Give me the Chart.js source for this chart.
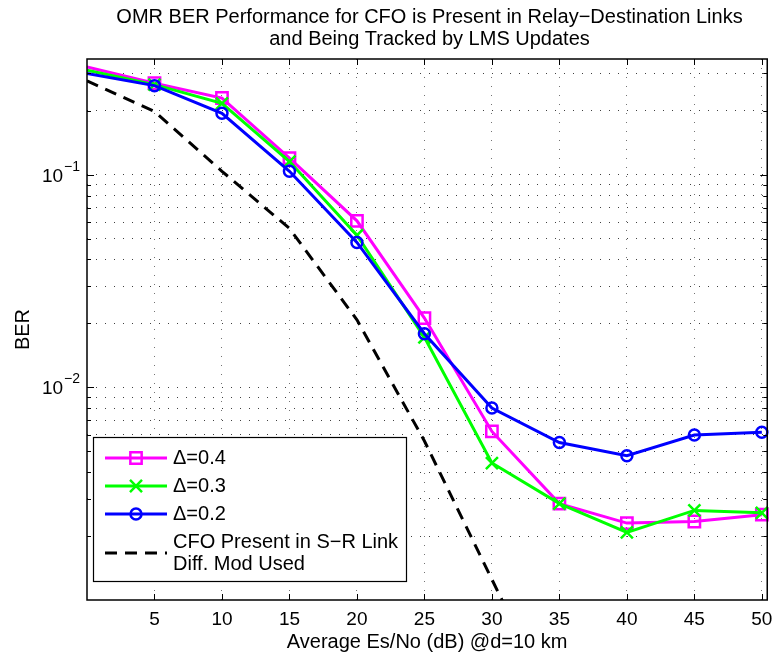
<!DOCTYPE html>
<html>
<head>
<meta charset="utf-8">
<script src="https://cdn.jsdelivr.net/npm/chart.js@4.4.1/dist/chart.umd.min.js"></script>
<style>
  html, body { margin: 0; padding: 0; background: #fff; }
</style>
</head>
<body>
<canvas id="chart" width="783" height="657"></canvas>
<script>
const snr = [0, 5, 10, 15, 20, 25, 30, 35, 40, 45, 50];
const ber04 = [0.322, 0.270, 0.230, 0.120, 0.0608, 0.0212, 0.00621, 0.00284, 0.00230, 0.00234, 0.00252];
const ber03 = [0.311, 0.266, 0.217, 0.1155, 0.0520, 0.0172, 0.00441, 0.00284, 0.00208, 0.00264, 0.00257];
const ber02 = [0.300, 0.263, 0.195, 0.104, 0.0481, 0.0179, 0.00800, 0.00551, 0.00477, 0.00597, 0.00615];
const snrRef = [0, 5, 10, 15, 20, 25, 30, 35];
const berRef = [0.277, 0.199, 0.104, 0.056, 0.0208, 0.0056, 0.00125, 0.00028];

const xTicks = [5, 10, 15, 20, 25, 30, 35, 40, 45, 50];
const yTicks = [0.002, 0.003, 0.004, 0.005, 0.006, 0.007, 0.008, 0.009,
                0.01, 0.02, 0.03, 0.04, 0.05, 0.06, 0.07, 0.08, 0.09,
                0.1, 0.2, 0.3];
const yLabels = [[0.1, '−1'], [0.01, '−2']];
const legendNames = ['Δ=0.4', 'Δ=0.3', 'Δ=0.2', ['CFO Present in S−R Link', 'Diff. Mod Used']];

const FONT = 'Liberation Sans, Arial, Helvetica, sans-serif';

function pts(xs, ys) {
  return xs.map(function(v, i) { return { x: v, y: ys[i] }; });
}
// no marker on the first point (sits on the left axis edge)
function rad(r) {
  return function(c) { return c.dataIndex === 0 ? 0 : r; };
}

const series = [
  { label: legendNames[0], data: pts(snr, ber04), borderColor: '#ff00ff', pointStyle: 'rect', pointRadius: rad(8), order: 3 },
  { label: legendNames[1], data: pts(snr, ber03), borderColor: '#00ff00', pointStyle: 'crossRot', pointRadius: rad(8.5), order: 2 },
  { label: legendNames[2], data: pts(snr, ber02), borderColor: '#0000ff', pointStyle: 'circle', pointRadius: rad(5.5), order: 1 },
  { label: legendNames[3].join(' '), data: pts(snrRef, berRef), borderColor: '#000', borderDash: [12, 8], pointRadius: 0, order: 0, clip: 0 }
];
series.forEach(function(s) {
  s.borderWidth = 3;
  s.pointBorderWidth = 2.5;
  s.pointBorderColor = s.borderColor;
  s.pointBackgroundColor = 'rgba(0,0,0,0)';
  s.pointHoverRadius = 0;
  s.tension = 0;
  if (s.clip === undefined) s.clip = { left: 0, top: 0, right: 8, bottom: 0 };
});

const frame = {
  id: 'frame',
  afterDraw(chart) {
    const ctx = chart.ctx, a = chart.chartArea;
    const x = chart.scales.x, y = chart.scales.y;
    ctx.save();
    ctx.strokeStyle = '#000';
    ctx.lineWidth = 1.5;
    ctx.setLineDash([]);
    ctx.strokeRect(a.left, a.top, a.right - a.left, a.bottom - a.top);

    // inward tick marks
    ctx.lineWidth = 1;
    ctx.beginPath();
    xTicks.forEach(function(v) {
      const px = Math.round(x.getPixelForValue(v)) + 0.5;
      ctx.moveTo(px, a.bottom); ctx.lineTo(px, a.bottom - 6);
      ctx.moveTo(px, a.top); ctx.lineTo(px, a.top + 6);
    });
    yTicks.forEach(function(v) {
      const py = Math.round(y.getPixelForValue(v)) + 0.5;
      const len = (v === 0.1 || v === 0.01) ? 7 : 4;
      ctx.moveTo(a.left, py); ctx.lineTo(a.left + len, py);
      ctx.moveTo(a.right, py); ctx.lineTo(a.right - len, py);
    });
    ctx.stroke();

    // y tick labels 10^-n
    ctx.fillStyle = '#000';
    yLabels.forEach(function(l) {
      const py = y.getPixelForValue(l[0]);
      ctx.font = '14px ' + FONT;
      const ew = ctx.measureText(l[1]).width;
      ctx.textBaseline = 'alphabetic';
      ctx.textAlign = 'left';
      const right = a.left - 7;
      ctx.fillText(l[1], right - ew, py - 4);
      ctx.font = '19px ' + FONT;
      ctx.textAlign = 'right';
      ctx.fillText('10', right - ew - 1, py + 7);
    });

    // y axis title
    ctx.save();
    ctx.translate(23, (a.top + a.bottom) / 2);
    ctx.rotate(-Math.PI / 2);
    ctx.font = '20px ' + FONT;
    ctx.textAlign = 'center';
    ctx.textBaseline = 'middle';
    ctx.fillText('BER', 0, 0);
    ctx.restore();

    // legend box
    const L = 93, T = 437, R = 406, B = 581;
    ctx.fillStyle = '#fff';
    ctx.fillRect(L, T, R - L, B - T);
    ctx.strokeStyle = '#000';
    ctx.lineWidth = 1.2;
    ctx.strokeRect(L + 0.5, T + 0.5, R - L, B - T);
    const rows = [458, 486, 514, 553];
    series.forEach(function(s, i) {
      const ry = rows[i];
      ctx.save();
      ctx.strokeStyle = s.borderColor;
      ctx.lineWidth = 3;
      ctx.setLineDash(s.borderDash || []);
      ctx.beginPath();
      ctx.moveTo(105, ry); ctx.lineTo(167, ry);
      ctx.stroke();
      ctx.setLineDash([]);
      if (i < 3) {
        ctx.fillStyle = 'rgba(0,0,0,0)';
        ctx.lineWidth = 2.5;
        const r = i === 0 ? 8 : (i === 1 ? 8.5 : 5.5);
        Chart.helpers.drawPoint(ctx, { pointStyle: s.pointStyle, radius: r, borderWidth: 2.5, rotation: 0 }, 136, ry);
      }
      ctx.restore();
      ctx.fillStyle = '#000';
      ctx.font = '20px ' + FONT;
      ctx.textAlign = 'left';
      ctx.textBaseline = 'middle';
      const names = Array.isArray(legendNames[i]) ? legendNames[i] : [legendNames[i]];
      if (names.length === 1) {
        ctx.fillText(names[0], 173, ry);
      } else {
        ctx.fillText(names[0], 173, ry - 10.5);
        ctx.fillText(names[1], 173, ry + 11);
      }
    });
    ctx.restore();
  }
};

const chart = new Chart(document.getElementById('chart').getContext('2d'), {
  type: 'line',
  data: { datasets: series },
  plugins: [frame],
  options: {
    responsive: false,
    animation: false,
    events: [],
    layout: { padding: { left: 87, right: 11, top: 0, bottom: 4.5 } },
    plugins: {
      legend: { display: false },
      tooltip: { enabled: false },
      title: {
        display: true,
        text: ['OMR BER Performance for CFO is Present in Relay−Destination Links',
               'and Being Tracked by LMS Updates'],
        color: '#000',
        font: { family: FONT, size: 20, weight: 'normal', lineHeight: 1.1 },
        padding: { top: 6, bottom: 9 }
      }
    },
    scales: {
      x: {
        type: 'linear',
        min: 0,
        max: 50.4,
        afterBuildTicks: function(scale) {
          scale.ticks = xTicks.map(function(v) { return { value: v }; });
        },
        afterFit: function(scale) { scale.height = 52.5; },
        ticks: {
          color: '#000',
          padding: 10.5,
          maxRotation: 0,
          font: { family: FONT, size: 19, lineHeight: 1.0 },
          callback: function(v) { return String(v); }
        },
        grid: { color: 'rgba(0,0,0,0.55)', lineWidth: 1, drawTicks: false },
        border: { display: false, dash: [1, 8] },
        title: {
          display: true,
          text: 'Average Es/No (dB) @d=10 km',
          color: '#000',
          font: { family: FONT, size: 20, lineHeight: 1.0 },
          padding: { top: 3.5, bottom: 0 }
        }
      },
      y: {
        type: 'logarithmic',
        min: 0.001,
        max: 0.351,
        afterBuildTicks: function(scale) {
          scale.ticks = yTicks.map(function(v) { return { value: v }; });
        },
        ticks: { display: false },
        grid: { color: 'rgba(0,0,0,0.75)', lineWidth: 1, drawTicks: false },
        border: { display: false, dash: [1, 8] }
      }
    }
  }
});
</script>
</body>
</html>
